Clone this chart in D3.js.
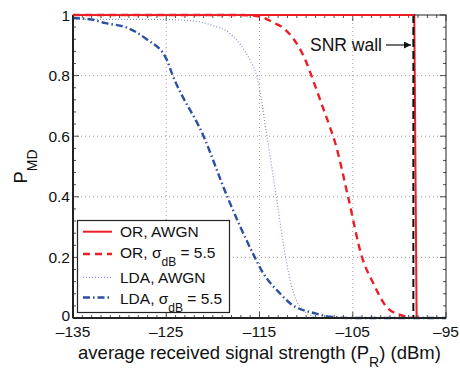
<!DOCTYPE html>
<html>
<head>
<meta charset="utf-8">
<script src="https://cdn.jsdelivr.net/npm/d3@7"></script>
<style>
  body { margin: 0; background: #fff; }
  svg text { font-family: "Liberation Sans", Arial, sans-serif; fill: #111; }
</style>
</head>
<body>
<div id="chart"></div>
<script>
// axis ticks
var xTicks = [-135, -125, -115, -105, -95];
var yTicks = [0, 0.2, 0.4, 0.6, 0.8, 1];

// OR, AWGN (red solid)
var pr_or_awgn = [-135, -98.4, -98.15, -95];
var pmd_or_awgn = [1, 1, 0, 0];

// OR, sigma_dB = 5.5 (red dashed)
var pr_or_sh = [-135, -117, -115, -113.5, -112.4, -111.4, -110, -109.2, -108.3, -107.4, -106.9, -105.5, -104, -102.8, -101.4, -99.9, -98.6];
var pmd_or_sh = [1, 1, 0.995, 0.975, 0.956, 0.923, 0.846, 0.78, 0.703, 0.626, 0.58, 0.4, 0.2, 0.115, 0.037, 0.01, 0];

// LDA, AWGN (blue dotted)
var pr_lda_awgn = [-135, -125, -122, -120, -118.2, -117, -116, -115.3, -114.2, -113.2, -112.2, -111.6, -111, -110.3, -109.5, -108.5, -95];
var pmd_lda_awgn = [0.986, 0.985, 0.98, 0.965, 0.94, 0.9, 0.85, 0.8, 0.6, 0.4, 0.2, 0.11, 0.055, 0.025, 0.008, 0, 0];

// LDA, sigma_dB = 5.5 (blue dash-dot)
var pr_lda_sh = [-135, -133, -131.5, -129.2, -127.1, -125, -124.3, -121, -118.45, -115.5, -114.8, -112.8, -111.7, -109, -107.4, -105, -95];
var pmd_lda_sh = [0.99, 0.985, 0.973, 0.958, 0.92, 0.856, 0.8, 0.6, 0.4, 0.2, 0.158, 0.081, 0.048, 0.015, 0.004, 0, 0];

// SNR wall
var snrWall = -98.5;

var margin = {top: 15, right: 14, bottom: 51, left: 73},
    width = 460 - margin.left - margin.right,
    height = 369 - margin.top - margin.bottom;

var svg = d3.select("#chart").append("svg")
    .attr("width", 460)
    .attr("height", 369);

var g = svg.append("g")
    .attr("transform", "translate(" + margin.left + "," + margin.top + ")");

var x = d3.scaleLinear().domain([-135, -95]).range([0, width]);
var y = d3.scaleLinear().domain([0, 1]).range([height, 0]);

// grid
g.append("g").selectAll("line")
    .data(xTicks.slice(1, -1))
    .enter().append("line")
    .attr("x1", d => x(d)).attr("x2", d => x(d))
    .attr("y1", 0).attr("y2", height)
    .attr("stroke", "#888").attr("stroke-width", 0.8)
    .attr("stroke-dasharray", "1,3");
g.append("g").selectAll("line")
    .data(yTicks.slice(1, -1))
    .enter().append("line")
    .attr("y1", d => y(d)).attr("y2", d => y(d))
    .attr("x1", 0).attr("x2", width)
    .attr("stroke", "#888").attr("stroke-width", 0.8)
    .attr("stroke-dasharray", "1,3");

// minor + major ticks on all four sides (inward)
var xMinor = d3.range(-135, -94, 1);
var yMinor = d3.range(0, 1.0001, 0.04);
function tickLen(major) { return major ? 6 : 3; }

var tk = g.append("g").attr("stroke", "#222").attr("stroke-width", 0.8);
xMinor.forEach(function (d) {
    var L = tickLen(xTicks.indexOf(d) >= 0);
    tk.append("line").attr("x1", x(d)).attr("x2", x(d)).attr("y1", height).attr("y2", height - L);
    tk.append("line").attr("x1", x(d)).attr("x2", x(d)).attr("y1", 0).attr("y2", L);
});
yMinor.forEach(function (d) {
    var major = Math.abs(d * 5 - Math.round(d * 5)) < 1e-6;
    var L = tickLen(major);
    tk.append("line").attr("y1", y(d)).attr("y2", y(d)).attr("x1", 0).attr("x2", L);
    tk.append("line").attr("y1", y(d)).attr("y2", y(d)).attr("x1", width).attr("x2", width - L);
});

// tick labels
g.append("g").selectAll("text")
    .data(xTicks)
    .enter().append("text")
    .attr("x", d => x(d))
    .attr("y", height + 19)
    .attr("text-anchor", "middle")
    .style("font-size", "15.5px")
    .text(d => "\u2013" + Math.abs(d));
g.append("g").selectAll("text")
    .data(yTicks)
    .enter().append("text")
    .attr("x", -3)
    .attr("y", d => d === 0 ? y(d) + 2.5 : y(d) + 5.5)
    .attr("text-anchor", "end")
    .style("font-size", "15.5px")
    .text(d => d === 0 ? "0" : d === 1 ? "1" : d3.format(".1f")(d));

// curves
var series = [
    {xs: pr_or_awgn, ys: pmd_or_awgn, color: "#ee1c25", width: 2, dash: null, curve: d3.curveLinear},
    {xs: pr_or_sh, ys: pmd_or_sh, color: "#ee1c25", width: 2.4, dash: "7,5", curve: d3.curveMonotoneX},
    {xs: pr_lda_awgn, ys: pmd_lda_awgn, color: "#8593d4", width: 1.2, dash: "1,2", curve: d3.curveMonotoneX},
    {xs: pr_lda_sh, ys: pmd_lda_sh, color: "#2c4ea3", width: 2.4, dash: "7,3,1.5,3", curve: d3.curveMonotoneX}
];

var line = d3.line();
series.forEach(function (s) {
    var pts = s.xs.map(function (v, i) { return [x(v), y(s.ys[i])]; });
    g.append("path")
        .attr("d", line.curve(s.curve)(pts))
        .attr("fill", "none")
        .attr("stroke", s.color)
        .attr("stroke-width", s.width)
        .attr("stroke-dasharray", s.dash);
});

// SNR wall
g.append("line")
    .attr("x1", x(snrWall)).attr("x2", x(snrWall))
    .attr("y1", 0).attr("y2", height)
    .attr("stroke", "#111").attr("stroke-width", 2)
    .attr("stroke-dasharray", "8,4");

// frame
g.append("rect")
    .attr("width", width).attr("height", height)
    .attr("fill", "none").attr("stroke", "#222").attr("stroke-width", 1);
g.append("line").attr("x1", 0).attr("x2", 0).attr("y1", 0).attr("y2", height)
    .attr("stroke", "#222").attr("stroke-width", 2);
g.append("line").attr("x1", 0).attr("x2", width).attr("y1", height).attr("y2", height)
    .attr("stroke", "#222").attr("stroke-width", 2);
// red top line redrawn over frame
g.append("line").attr("x1", 0).attr("x2", x(-98.4)).attr("y1", y(1)).attr("y2", y(1))
    .attr("stroke", "#ee1c25").attr("stroke-width", 2);

// annotation
svg.append("defs").append("marker")
    .attr("id", "arrow")
    .attr("viewBox", "0 0 10 10")
    .attr("refX", 10).attr("refY", 5)
    .attr("markerWidth", 9).attr("markerHeight", 7)
    .attr("markerUnits", "userSpaceOnUse")
    .attr("orient", "auto")
    .append("path").attr("d", "M0,0L10,5L0,10z").attr("fill", "#111");
svg.append("text")
    .attr("x", 310).attr("y", 51)
    .style("font-size", "17.5px")
    .text("SNR wall");
svg.append("line")
    .attr("x1", 386).attr("x2", 411)
    .attr("y1", 45).attr("y2", 45)
    .attr("stroke", "#111").attr("stroke-width", 1.2)
    .attr("marker-end", "url(#arrow)");

// legend
var legend = svg.append("g");
legend.append("rect")
    .attr("x", 77.5).attr("y", 220.5)
    .attr("width", 152).attr("height", 92)
    .attr("fill", "#fff").attr("stroke", "#222").attr("stroke-width", 1.2);
var legRows = [
    {s: series[0], ly: 231.7, ty: 237, label: "OR, AWGN", sub: false},
    {s: series[1], ly: 254, ty: 258, label: "OR, ", sub: true},
    {s: series[2], ly: 277.3, ty: 282.5, label: "LDA, AWGN", sub: false},
    {s: series[3], ly: 297.5, ty: 303.5, label: "LDA, ", sub: true}
];
legRows.forEach(function (r) {
    legend.append("line")
        .attr("x1", 83).attr("x2", 112)
        .attr("y1", r.ly).attr("y2", r.ly)
        .attr("stroke", r.s.color).attr("stroke-width", r.s.width)
        .attr("stroke-dasharray", r.s.dash);
    var t = legend.append("text")
        .attr("x", 120).attr("y", r.ty)
        .style("font-size", "15.5px");
    t.append("tspan").text(r.label);
    if (r.sub) {
        t.append("tspan").text("\u03c3");
        t.append("tspan").attr("dy", 8).style("font-size", "12px").text("dB");
        t.append("tspan").attr("dy", -8).text(" = 5.5");
    }
});

// axis labels
var yl = svg.append("text")
    .attr("transform", "translate(27," + (margin.top + height / 2) + ") rotate(-90)")
    .attr("text-anchor", "middle")
    .style("font-size", "18.5px");
yl.append("tspan").text("P");
yl.append("tspan").attr("dy", 10).style("font-size", "14px").text("MD");

var xl = svg.append("text")
    .attr("x", margin.left + width / 2)
    .attr("y", 359)
    .attr("text-anchor", "middle")
    .style("font-size", "18.5px");
xl.append("tspan").text("average received signal strength (P");
xl.append("tspan").attr("dy", 8).style("font-size", "14px").text("R");
xl.append("tspan").attr("dy", -8).text(") (dBm)");
</script>
</body>
</html>
